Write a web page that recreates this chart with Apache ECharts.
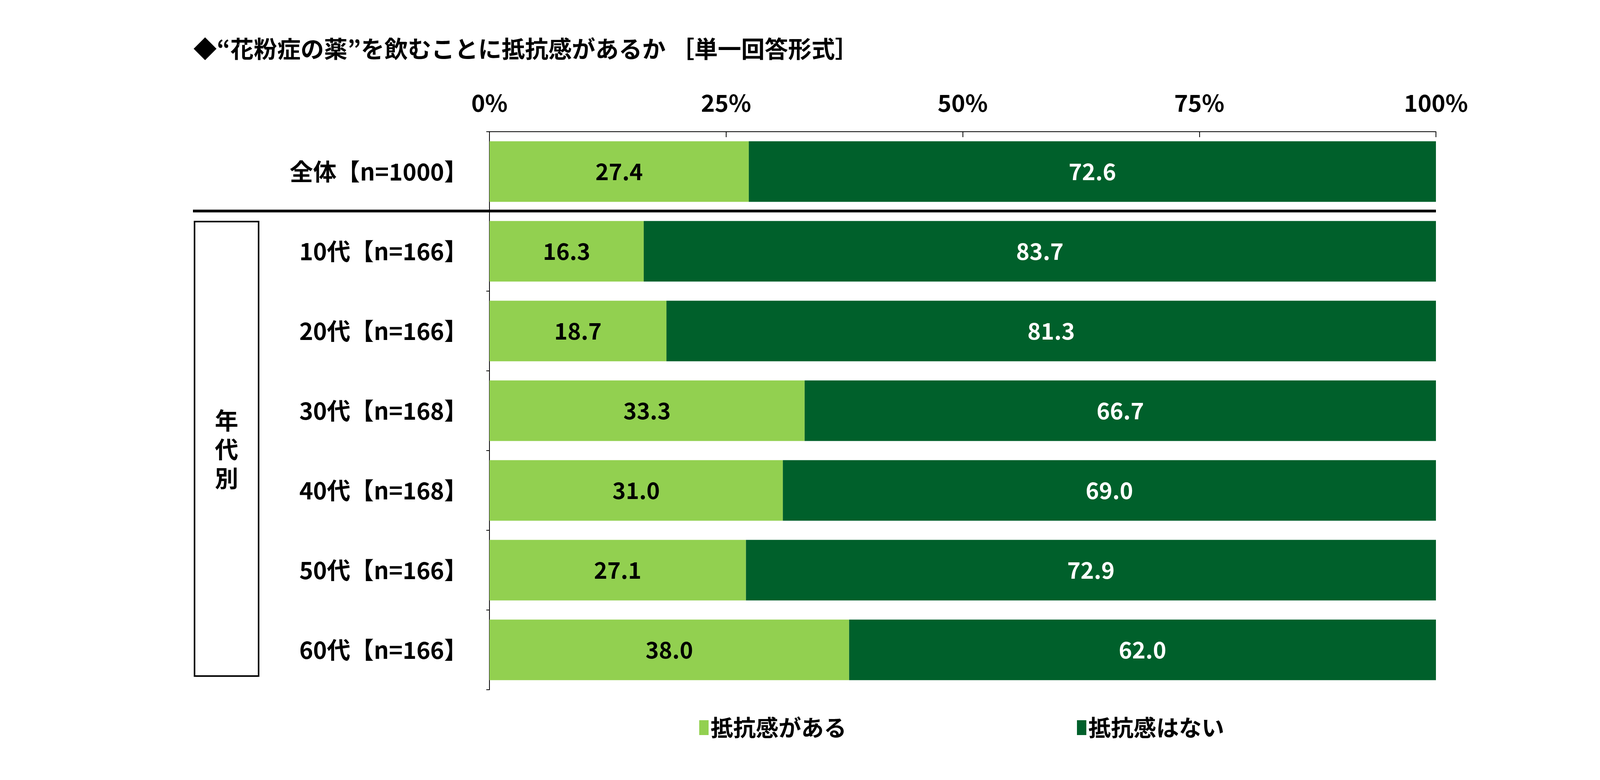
<!DOCTYPE html>
<html><head><meta charset="utf-8">
<script src="https://cdn.jsdelivr.net/npm/echarts@6/dist/echarts.min.js"></script>
<style>html,body{margin:0;padding:0;background:#fff}#main{width:4270px;height:1996px}</style>
</head><body><div id="main"></div>
<script>
var categories = ['全体【n=1000】', '10代【n=166】', '20代【n=166】', '30代【n=168】', '40代【n=168】', '50代【n=166】', '60代【n=166】'];
var seriesNames = ['抵抗感がある', '抵抗感はない'];
var yesValues = [27.4, 16.3, 18.7, 33.3, 31.0, 27.1, 38.0];
var noValues = [72.6, 83.7, 81.3, 66.7, 69.0, 72.9, 62.0];
var tickLabels = ['0%', '25%', '50%', '75%', '100%'];

var FONT = '"Noto Sans CJK JP", sans-serif';
var chart = echarts.init(document.getElementById('main'));

function mkSeries(name, data, color, textColor) {
    return {
        name: name, type: 'bar', stack: 'all', barWidth: '76%',
        itemStyle: { color: color },
        label: {
            show: true, position: 'inside', color: textColor,
            fontFamily: FONT, fontWeight: 'bold', fontSize: 58,
            formatter: function(p) { return p.value.toFixed(1); }
        },
        data: data
    };
}

chart.setOption({
    animation: false,
    title: {
        text: '◆“花粉症の薬”を飲むことに抵抗感があるか ［単一回答形式］',
        left: 490, top: 90,
        textStyle: { fontFamily: FONT, fontWeight: 'bold', fontSize: 60, color: '#000' }
    },
    legend: {
        data: seriesNames, bottom: 100, left: 1785, itemGap: 590,
        itemWidth: 24, itemHeight: 38, icon: 'rect',
        textStyle: { fontFamily: FONT, fontWeight: 'bold', fontSize: 58, color: '#000' }
    },
    grid: { left: 1253, right: 4270 - 3676, top: 337, bottom: 1996 - 1765 },
    xAxis: {
        type: 'value', position: 'top', min: 0, max: 100, interval: 25,
        axisLine: { show: true, lineStyle: { color: '#000', width: 2 } },
        axisTick: { show: true, inside: true, length: 14, lineStyle: { color: '#000', width: 2 } },
        splitLine: { show: false },
        axisLabel: {
            margin: 44, fontFamily: FONT, fontWeight: 'bold', fontSize: 60, color: '#000',
            formatter: function(v) { return tickLabels[v / 25]; }
        }
    },
    yAxis: {
        type: 'category', inverse: true, data: categories,
        axisLine: { show: true, lineStyle: { color: '#000', width: 2 } },
        axisTick: { show: true, length: 8, lineStyle: { color: '#000', width: 2 } },
        axisLabel: { margin: 56, fontFamily: FONT, fontWeight: 'bold', fontSize: 60, color: '#000' }
    },
    series: [
        mkSeries(seriesNames[0], yesValues, '#92D050', '#000'),
        mkSeries(seriesNames[1], noValues, '#00602B', '#fff')
    ],
    graphic: [
        { type: 'line', shape: { x1: 494, y1: 540, x2: 3676, y2: 540 }, style: { stroke: '#000', lineWidth: 7 } },
        { type: 'rect', shape: { x: 498, y: 567, width: 164, height: 1163 }, style: { fill: 'none', stroke: '#000', lineWidth: 4 } },
        { type: 'text', x: 580, y: 1150, style: {
            text: '年\n代\n別', fontFamily: FONT, fontWeight: 'bold', fontSize: 60, fill: '#000',
            align: 'center', verticalAlign: 'middle', lineHeight: 74 } }
    ]
});
</script>
</body></html>
